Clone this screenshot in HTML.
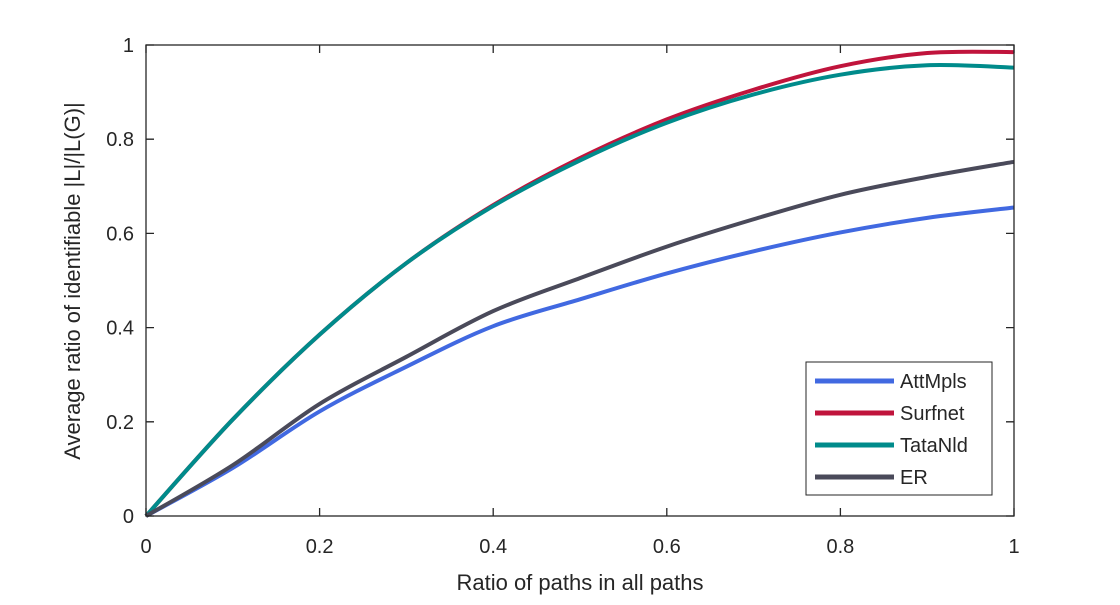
<!DOCTYPE html>
<html><head><meta charset="utf-8"><style>
body{margin:0;background:#fff;}
svg text{font-family:"Liberation Sans",sans-serif;fill:#262626;}
</style></head><body>
<svg id="chart" width="1120" height="600">
<rect x="0" y="0" width="1120" height="600" fill="#fff"/>
<g id="series"></g>
<rect x="146" y="45" width="868" height="471" fill="none" stroke="#262626" stroke-width="1.3"/>
<g id="ticks"></g>
<text x="580" y="590" font-size="22" text-anchor="middle">Ratio of paths in all paths</text>
<text transform="translate(80,281) rotate(-90)" font-size="22" text-anchor="middle">Average ratio of identifiable |L|/|L(G)|</text>
<g>
<rect x="806" y="362" width="186" height="133" fill="#fff" stroke="#262626" stroke-width="1"/>
<g id="legend"></g>
</g>
</svg>
<script>
const xs=[0,0.1,0.2,0.3,0.4,0.5,0.6,0.7,0.8,0.9,1];
const names=["AttMpls","Surfnet","TataNld","ER"];
const colors=["#4169e1","#c0143c","#008b8b","#4a4a5a"];
const attMpls=[0,0.102,0.222,0.317,0.403,0.46,0.515,0.562,0.602,0.633,0.655];
const surfnet=[0,0.205,0.385,0.537,0.66,0.76,0.842,0.905,0.955,0.983,0.985];
const tataNld=[0,0.205,0.385,0.537,0.658,0.755,0.835,0.895,0.937,0.957,0.952];
const er=[0,0.108,0.238,0.338,0.435,0.505,0.572,0.63,0.682,0.72,0.752];
const seriesVals=[attMpls,surfnet,tataNld,er];
const xTicks=[0,0.2,0.4,0.6,0.8,1];
const yTicks=[0,0.2,0.4,0.6,0.8,1];
const X=v=>146+v*868, Y=v=>516-v*471;
const NS="http://www.w3.org/2000/svg";
const sg=document.getElementById('series');
function smooth(px,py){let d=`M${px[0]},${py[0]}`;for(let i=0;i<px.length-1;i++){const x0=px[Math.max(i-1,0)],y0=py[Math.max(i-1,0)],x1=px[i],y1=py[i],x2=px[i+1],y2=py[i+1],x3=px[Math.min(i+2,px.length-1)],y3=py[Math.min(i+2,px.length-1)];d+=` C${x1+(x2-x0)/6},${y1+(y2-y0)/6} ${x2-(x3-x1)/6},${y2-(y3-y1)/6} ${x2},${y2}`;}return d;}
seriesVals.forEach((vals,k)=>{
 const p=document.createElementNS(NS,'path');
 p.setAttribute('d',smooth(xs.map(X),vals.map(Y)));
 p.setAttribute('fill','none');p.setAttribute('stroke',colors[k]);p.setAttribute('stroke-width','4');
 
 
 sg.appendChild(p);
});
const tg=document.getElementById('ticks');
xTicks.forEach(t=>{
 const l=document.createElementNS(NS,'path');
 l.setAttribute('d',`M${X(t)},516v-8M${X(t)},45v8`);l.setAttribute('stroke','#262626');l.setAttribute('stroke-width','1.3');
 
 
 tg.appendChild(l);
 const tx=document.createElementNS(NS,'text');
 tx.setAttribute('x',X(t));tx.setAttribute('y',553);tx.setAttribute('font-size','20');tx.setAttribute('text-anchor','middle');
 tx.textContent=String(t);
 
 
 tg.appendChild(tx);
});
yTicks.forEach(t=>{
 const l=document.createElementNS(NS,'path');
 l.setAttribute('d',`M146,${Y(t)}h8M1014,${Y(t)}h-8`);l.setAttribute('stroke','#262626');l.setAttribute('stroke-width','1.3');
 
 
 tg.appendChild(l);
 const tx=document.createElementNS(NS,'text');
 tx.setAttribute('x',134);tx.setAttribute('y',Y(t)+7);tx.setAttribute('font-size','20');tx.setAttribute('text-anchor','end');
 tx.textContent=String(t);
 
 
 tg.appendChild(tx);
});
const lg=document.getElementById('legend');
names.forEach((n,k)=>{
 const y=381+k*32;
 const l=document.createElementNS(NS,'line');
 l.setAttribute('x1',815);l.setAttribute('x2',894);l.setAttribute('y1',y);l.setAttribute('y2',y);
 l.setAttribute('stroke',colors[k]);l.setAttribute('stroke-width','5');
 
 
 lg.appendChild(l);
 const tx=document.createElementNS(NS,'text');
 tx.setAttribute('x',900);tx.setAttribute('y',y+7);tx.setAttribute('font-size','20');
 tx.textContent=n;
 
 
 lg.appendChild(tx);
});
</script>
</body></html>
